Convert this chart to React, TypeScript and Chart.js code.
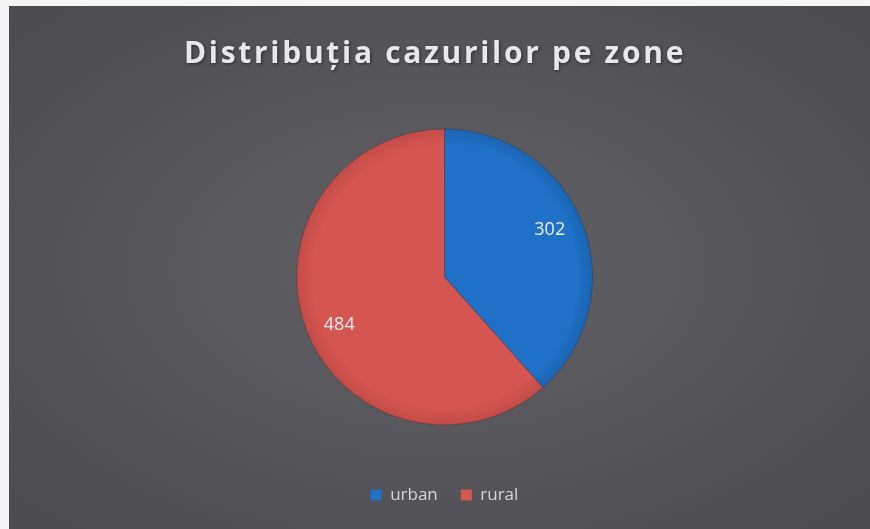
import React, { useEffect, useRef } from "react";
import { Chart, registerables } from "chart.js";

Chart.register(...registerables);

const categories = ["urban", "rural"];
const values = [302, 484];
const sliceColors = ["#1f71c8", "#d55550"];
const sliceEdgeColors = ["#1a62b0", "#c04a46"];
const titleText = "Distribuția cazurilor pe zone";

export default function App() {
  const ref = useRef<HTMLCanvasElement>(null);

  useEffect(() => {
    const canvas = ref.current!;

    const titlePlugin = {
      id: "spacedTitle",
      afterDraw(chart: any) {
        const ctx = chart.ctx as CanvasRenderingContext2D;
        ctx.save();
        ctx.font = "bold 30px 'Open Sans'";
        (ctx as any).letterSpacing = "2.7px";
        ctx.fillStyle = "#e8e8ea";
        ctx.textAlign = "center";
        ctx.textBaseline = "alphabetic";
        ctx.shadowColor = "rgba(0,0,0,0.45)";
        ctx.shadowBlur = 3;
        ctx.shadowOffsetX = 1;
        ctx.shadowOffsetY = 1;
        ctx.fillText(titleText, 426, 56.5);
        ctx.restore();
      },
    };

    const labelPlugin = {
      id: "sliceLabels",
      afterDatasetsDraw(chart: any) {
        const ctx = chart.ctx as CanvasRenderingContext2D;
        const meta = chart.getDatasetMeta(0);
        ctx.save();
        ctx.font = "18px 'Open Sans'";
        ctx.fillStyle = "#eeeeee";
        ctx.textAlign = "center";
        ctx.textBaseline = "middle";
        meta.data.forEach((arc: any, i: number) => {
          const p = arc.getProps(["x", "y", "startAngle", "endAngle", "outerRadius"], true);
          const mid = (p.startAngle + p.endAngle) / 2 - 0.06;
          const r = p.outerRadius * 0.78;
          ctx.fillText(String(values[i]), p.x + Math.cos(mid) * r, p.y + Math.sin(mid) * r);
        });
        ctx.restore();
      },
    };

    const chart = new Chart(canvas, {
      type: "pie",
      data: {
        labels: categories,
        datasets: [
          {
            data: values,
            backgroundColor: (c: any) => {
              const area = c.chart.chartArea;
              const i = c.dataIndex;
              if (!area || i === undefined) return sliceColors[i ?? 0];
              const cx = (area.left + area.right) / 2;
              const cy = (area.top + area.bottom) / 2;
              const g = c.chart.ctx.createRadialGradient(cx, cy, 0, cx, cy, 150);
              g.addColorStop(0, sliceColors[i]);
              g.addColorStop(0.88, sliceColors[i]);
              g.addColorStop(1, sliceEdgeColors[i]);
              return g;
            },
            borderColor: "rgba(40,40,50,0.35)",
            borderWidth: 1,
          },
        ],
      },
      options: {
        animation: false,
        responsive: false,
        devicePixelRatio: 1,
        layout: { padding: { top: 84.5, bottom: 15.5, left: 287, right: 277 } },
        plugins: {
          title: { display: false },
          tooltip: { enabled: false },
          legend: {
            display: true,
            position: "bottom",
            labels: {
              boxWidth: 11,
              boxHeight: 11,
              padding: 23,
              color: "#d6d6d8",
              font: { family: "'Open Sans'", size: 17 },
              generateLabels: () =>
                categories.map((t, i) => ({
                  text: t,
                  fillStyle: sliceColors[i],
                  strokeStyle: sliceColors[i],
                  lineWidth: 0,
                  fontColor: "#d6d6d8",
                  hidden: false,
                  index: i,
                })),
            },
          },
        },
      },
      plugins: [titlePlugin, labelPlugin],
    });

    return () => chart.destroy();
  }, []);

  return (
    <div
      style={{
        position: "fixed",
        left: 0,
        top: 0,
        width: 870,
        height: 529,
        background: "#f4f4f4",
        overflow: "hidden",
      }}
    >
      <div
        style={{
          position: "absolute",
          left: 9,
          top: 6,
          width: 861,
          height: 523,
          background:
            "radial-gradient(ellipse at 50% 50%, #616165 0%, #57575c 45%, #4a4a4f 100%)",
        }}
      >
        <canvas ref={ref} width={861} height={523} style={{ display: "block", width: 861, height: 523 }} />
      </div>
    </div>
  );
}
